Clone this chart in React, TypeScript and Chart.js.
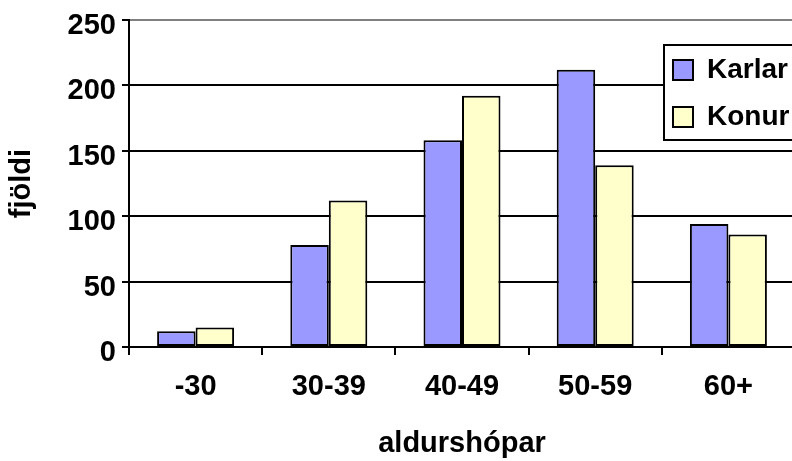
import React, { useEffect, useRef } from "react";
import { Chart, registerables } from "chart.js";

Chart.register(...registerables);

const categories = ["-30", "30-39", "40-49", "50-59", "60+"];
const karlar = [12, 78, 158, 212, 94];
const konur = [15, 112, 192, 139, 86];
const seriesNames = ["Karlar", "Konur"];
const yTitle = "fjöldi";
const xTitle = "aldurshópar";
const yMax = 250;
const yStep = 50;

const FONT = "'Liberation Sans', Arial, Helvetica, sans-serif";
const FS = 29;
const CANVAS_W = 820;
const CANVAS_H = 461;
const LEGEND_X = 664; // legend frame left
const LEGEND_Y = 45; // legend frame top
const LEGEND_H = 95;
const LEGEND_PAD = 19;

const legendFramePlugin = {
  id: "legendFrame",
  afterLayout(chart: any) {
    const lg = chart.legend;
    if (!lg) return;
    lg.left = LEGEND_X + 9 - LEGEND_PAD;
    lg.top = LEGEND_Y + 11 - LEGEND_PAD;
    lg.right = chart.width;
    lg.bottom = lg.top + 200;
    lg.width = lg.right - lg.left;
    lg.height = 200;
  },
  afterDatasetsDraw(chart: any) {
    const ctx = chart.ctx;
    ctx.save();
    ctx.fillStyle = "#ffffff";
    ctx.fillRect(LEGEND_X, LEGEND_Y, chart.width - LEGEND_X + 10, LEGEND_H);
    ctx.strokeStyle = "#000000";
    ctx.lineWidth = 2;
    ctx.strokeRect(LEGEND_X, LEGEND_Y, chart.width - LEGEND_X + 10, LEGEND_H);
    ctx.restore();
    if (chart.legend) chart.legend.draw();
  },
};

export default function App() {
  const ref = useRef<HTMLCanvasElement | null>(null);

  useEffect(() => {
    if (!ref.current) return;
    Chart.defaults.font.family = FONT;
    Chart.defaults.color = "#000000";
    const chart = new Chart(ref.current, {
      type: "bar",
      data: {
        labels: categories,
        datasets: [
          {
            label: seriesNames[0],
            data: karlar,
            backgroundColor: "#9999FF",
            borderColor: "#000000",
            borderWidth: 2,
            borderSkipped: false,
            categoryPercentage: 0.578,
            barPercentage: 1,
          },
          {
            label: seriesNames[1],
            data: konur,
            backgroundColor: "#FFFFCC",
            borderColor: "#000000",
            borderWidth: 2,
            borderSkipped: false,
            categoryPercentage: 0.578,
            barPercentage: 1,
          },
        ],
      },
      options: {
        animation: false,
        responsive: false,
        devicePixelRatio: 1,
        layout: { padding: { left: 0, top: 20, right: 25, bottom: 0 } },
        plugins: {
          tooltip: { enabled: false },
          legend: {
            display: true,
            position: "chartArea" as any,
            align: "start",
            labels: {
              boxWidth: 20,
              boxHeight: 20,
              padding: LEGEND_PAD,
              color: "#000000",
              textAlign: "left",
              font: { family: FONT, size: 28, weight: "bold" },
            },
          },
        },
        scales: {
          x: {
            grid: {
              drawOnChartArea: false,
              drawTicks: true,
              tickLength: 8,
              color: "#000000",
              lineWidth: 2,
            },
            border: { color: "#000000", width: 2 },
            ticks: {
              padding: 15,
              color: "#000000",
              maxRotation: 0,
              font: { family: FONT, size: FS, weight: "bold" },
            },
            title: {
              display: true,
              text: xTitle,
              color: "#000000",
              padding: { top: 0, bottom: 0 },
              font: { family: FONT, size: FS, weight: "bold" },
            },
            afterFit: (scale: any) => {
              scale.height = 114;
              scale.paddingLeft = 0;
              scale.paddingRight = 0;
            },
          },
          y: {
            min: 0,
            max: yMax,
            grid: {
              color: (c: any) =>
                c.tick && c.tick.value === yMax ? "#808080" : "#000000",
              tickColor: "#000000",
              tickLength: 7,
              lineWidth: 2,
            },
            border: { color: "#000000", width: 2 },
            ticks: {
              stepSize: yStep,
              padding: 6,
              labelOffset: 6,
              color: "#000000",
              font: { family: FONT, size: FS, weight: "bold" },
            },
            title: {
              display: true,
              text: yTitle,
              color: "#000000",
              padding: { top: 5, bottom: 0 },
              font: { family: FONT, size: FS, weight: "bold" },
            },
            afterFit: (scale: any) => {
              scale.width = 129;
              scale.paddingTop = 0;
              scale.paddingBottom = 0;
            },
          },
        },
      },
      plugins: [legendFramePlugin],
    });
    return () => chart.destroy();
  }, []);

  return (
    <div
      style={{
        position: "fixed",
        left: 0,
        top: 0,
        width: 792,
        height: 461,
        overflow: "hidden",
        background: "#ffffff",
      }}
    >
      <canvas
        ref={ref}
        width={CANVAS_W}
        height={CANVAS_H}
        style={{ width: CANVAS_W, height: CANVAS_H, display: "block" }}
      />
    </div>
  );
}
